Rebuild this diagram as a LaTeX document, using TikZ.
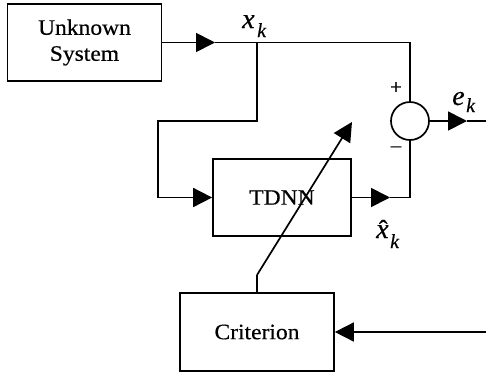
\documentclass[tikz,border=0pt]{standalone}
\usepackage{fontspec}
\setmainfont{Liberation Serif}
\newfontfamily\boxfont[FakeStretch=1.07,FakeBold=0.4]{Liberation Serif}
\newfontfamily\lblfont[FakeBold=0.4]{Liberation Serif}
\usetikzlibrary{arrows.meta}
\tikzset{
  blk/.style={draw, line width=1.7pt, inner sep=0pt, font=\boxfont\fontsize{22}{26}\selectfont, align=center},
  wire/.style={line width=1.7pt},
  arr/.style={wire, -{Triangle[length=19pt,width=19pt]}},
  big/.style={font=\lblfont\itshape\fontsize{28}{28}\selectfont, inner sep=0pt, anchor=base west},
  sub/.style={font=\lblfont\itshape\fontsize{20}{20}\selectfont, inner sep=0pt, anchor=base west},
  sgn/.style={font=\lblfont\fontsize{21}{21}\selectfont, inner sep=0pt}
}
\begin{document}
\begin{tikzpicture}[x=1pt,y=-1pt]
\useasboundingbox (0,0) rectangle (486,373);
\node[blk, minimum width=154pt, minimum height=77pt] (us) at (84.5,42.5) {Unknown\\System};
\node[blk, minimum width=138pt, minimum height=77pt] (tdnn) at (282,197.5) {TDNN};
\node[blk, minimum width=154pt, minimum height=78pt] (crit) at (257,332) {Criterion};
\node[draw, circle, line width=1.7pt, minimum size=38pt, inner sep=0pt] (sum) at (410,121) {};
% coordinates
\coordinate (a1) at (215,42.5);
\coordinate (j) at (257,42.5);
\coordinate (tr) at (410,42.5);
\coordinate (j2) at (257,121);
\coordinate (l1) at (158,121);
\coordinate (l2) at (158,197.5);
\coordinate (a2) at (390,197.5);
\coordinate (br) at (410,197.5);
\coordinate (a3) at (467,121);
\coordinate (eout) at (486,121);
\coordinate (cin) at (486,332);
\coordinate (d1) at (257,275);
\coordinate (dtip) at (352,122);
% wires
\draw[arr] (us.east) -- (a1);
\draw[wire] (a1) -- (tr) -- (sum.north);
\draw[wire] (j) -- (j2) -- (l1) -- (l2);
\draw[arr] (l2) -- (tdnn.west);
\draw[arr] (tdnn.east) -- (a2);
\draw[wire] (a2) -- (br) -- (sum.south);
\draw[arr] (sum.east) -- (a3);
\draw[wire] (a3) -- (eout);
\draw[arr] (cin) -- (crit.east);
\draw[wire] (crit.north) -- (d1);
\draw[arr] (d1) -- (dtip);
% labels
\node[big] (xk) at (242,28) {x};
\node[sub] (xks) at (257,37) {k};
\node[big] (ek) at (452,105) {e};
\node[sub] (eks) at (466,112) {k};
\node[big] (xh) at (376,238) {x\llap{\fontsize{26}{26}\upshape\char"02C6\kern1pt}};
\node[sub] (xhs) at (390,248) {k};
\node[sgn] (plus) at (396,88) {+};
\node[sgn] (minus) at (396,149) {\char"2013};
\end{tikzpicture}
\end{document}
